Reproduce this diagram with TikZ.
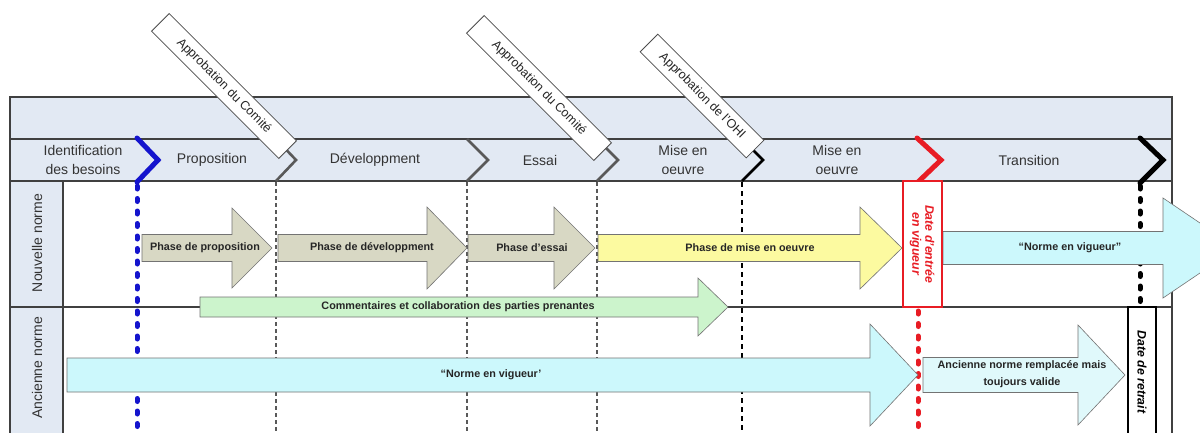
\documentclass[tikz,border=0pt]{standalone}
\usepackage{fontspec}
\setmainfont{Liberation Sans}
\definecolor{band}{RGB}{226,233,243}
\definecolor{tan}{RGB}{216,216,196}
\definecolor{yel}{RGB}{252,250,160}
\definecolor{grn}{RGB}{204,244,204}
\definecolor{cyn}{RGB}{204,248,252}
\definecolor{cynlt}{RGB}{224,249,251}
\definecolor{myred}{RGB}{232,28,36}
\definecolor{myblue}{RGB}{20,20,205}
\newcommand\phasearr[8]{% name, x0, x1, xtip, yc, shaft half, head half, fill
  \fill[#8] (#2,#5-#6) -- (#3,#5-#6) -- (#3,#5-#7) -- (#4,#5) -- (#3,#5+#7) -- (#3,#5+#6) -- (#2,#5+#6) -- cycle;
  \draw[arrowline] (#2,#5-#6) -- (#3,#5-#6) -- (#3,#5-#7) -- (#4,#5) -- (#3,#5+#7) -- (#3,#5+#6) -- (#2,#5+#6) -- cycle;
  \coordinate (#1) at (#2,#5);
}
\begin{document}
\begin{tikzpicture}[x=1pt,y=-1pt,
  phasetxt/.style={font=\fontsize{14}{19.5}\selectfont, text=black!80, align=center, inner sep=0pt},
  rowtxt/.style={font=\fontsize{14}{16}\selectfont, text=black!80, rotate=90, inner sep=0pt},
  arrtxt/.style={font=\bfseries\fontsize{10.8}{16.5}\selectfont, text=black!85, align=center, inner sep=0pt},
  apprbox/.style={draw=black!70, line width=0.8pt, fill=white, rotate=-45, minimum height=25pt, inner sep=0pt, font=\fontsize{12.5}{13}\selectfont, text=black!85},
  arrowline/.style={draw=black!55, line width=0.6pt},
  gridline/.style={draw=black!75, line width=1.2pt},
  graydash/.style={draw=black!65, line width=2.2pt, dash pattern=on 4pt off 3pt},
  blackdash/.style={draw=black, line width=2.6pt, dash pattern=on 5pt off 4pt},
  thickdot/.style={line width=5pt, line cap=round, dash pattern=on 3pt off 9.5pt},
  graychev/.style={draw=black!65, line width=2.6pt},
  blackchev/.style={draw=black, line width=2.6pt},
  thickchev/.style={line width=5pt, line cap=round, line join=miter},
  datebox/.style={line width=2.6pt, fill=white},
  datetxt/.style={font=\bfseries\itshape\fontsize{12.3}{13}\selectfont, rotate=-90, align=center, inner sep=0pt}
]
\useasboundingbox (0,0) rectangle (1200,432);
\clip (0,0) rectangle (1200,432);
\fill[white] (0,0) rectangle (1200,432);

% bands
\fill[band] (10,97) rectangle (1172,181);
\fill[band] (10,181) rectangle (63,440);
\draw[gridline] (10,440) -- (10,97) -- (1172,97) -- (1172,440);
\draw[gridline] (10,139) -- (1172,139);
\draw[gridline] (10,181) -- (1172,181);
\draw[gridline] (63,181) -- (63,440);
\draw[gridline] (10,307) -- (1172,307);

% vertical milestone lines
\draw[thickdot, myblue] (137,186) -- (137,440);
\draw[graydash] (276,182) -- (276,440);
\draw[graydash] (467,182) -- (467,440);
\draw[graydash] (597,182) -- (597,440);
\draw[blackdash] (742,182) -- (742,440);
\draw[thickdot, myred] (918,186) -- (918,440);
\draw[thickdot, black] (1140,186) -- (1140,440);

% chevrons
\draw[thickchev, myblue] (137,138) -- (158,160) -- (137,182);
\draw[graychev] (276,139) -- (296,160) -- (276,181);
\draw[graychev] (467,139) -- (488,160) -- (467,181);
\draw[graychev] (597,139) -- (618,160) -- (597,181);
\draw[blackchev] (742,139) -- (763,160) -- (742,181);
\draw[thickchev, myred] (917,138) -- (941,160) -- (918,182);
\draw[thickchev, black] (1140,138) -- (1163,160) -- (1140,183);

% approval boxes
\node[apprbox, minimum width=180pt] (ap1) at (224,86) {Approbation du Comité};
\node[apprbox, minimum width=180pt] (ap2) at (539,88) {Approbation du Comité};
\node[apprbox, minimum width=150pt] (ap3) at (702,96) {Approbation de l'OHI};

% phase row labels
\node[phasetxt] (ph0) at (83,160) {Identification\\des besoins};
\node[phasetxt] (ph1) at (212,160) {Proposition};
\node[phasetxt] (ph2) at (375,160) {Développment};
\node[phasetxt] (ph3) at (540,160) {Essai};
\node[phasetxt] (ph4) at (683,160) {Mise en\\oeuvre};
\node[phasetxt] (ph5) at (837,160) {Mise en\\oeuvre};
\node[phasetxt] (ph6) at (1029,160) {Transition};

% row labels
\node[rowtxt] (rn) at (37,243) {Nouvelle norme};
\node[rowtxt] (ra) at (37,368) {Ancienne norme};

% arrows
\phasearr{a1}{142}{232}{272}{248}{13.5}{40}{tan}
\phasearr{a2}{278}{427}{467}{248}{13.5}{41}{tan}
\phasearr{a3}{468}{554}{595}{248}{13.5}{41}{tan}
\phasearr{a4}{598}{860}{902}{248}{13.5}{41}{yel}
\phasearr{a5}{943}{1163}{1237}{248}{16.5}{50}{cyn}
\phasearr{a6}{200}{698}{728}{307}{10}{29}{grn}
\phasearr{a7}{67}{870}{918}{375}{17}{51}{cyn}
\phasearr{a8}{923}{1078}{1125}{375}{17.5}{50}{cynlt}

\node[arrtxt] (t1) at (205,248) {Phase de proposition};
\node[arrtxt] (t2) at (372,248) {Phase de développment};
\node[arrtxt] (t3) at (532,248) {Phase d'essai};
\node[arrtxt] (t4) at (750,248) {Phase de mise en oeuvre};
\node[arrtxt] (t5) at (1070,248) {“Norme en vigueur”};
\node[arrtxt] (t6) at (458,307) {Commentaires et collaboration des parties prenantes};
\node[arrtxt] (t7) at (491,375) {“Norme en vigueur’};
\node[arrtxt] (t8) at (1022,374) {Ancienne norme remplacée mais\\toujours valide};

% date boxes
\draw[datebox, draw=myred] (903,181) rectangle (942,307);
\node[datetxt, text=myred] (de) at (922,244) {Date d'entrée\\en vigueur};
\draw[datebox, draw=black] (1128,307) rectangle (1156,445);
\node[datetxt, text=black] (dr) at (1142,372) {Date de retrait};
\end{tikzpicture}
\end{document}
